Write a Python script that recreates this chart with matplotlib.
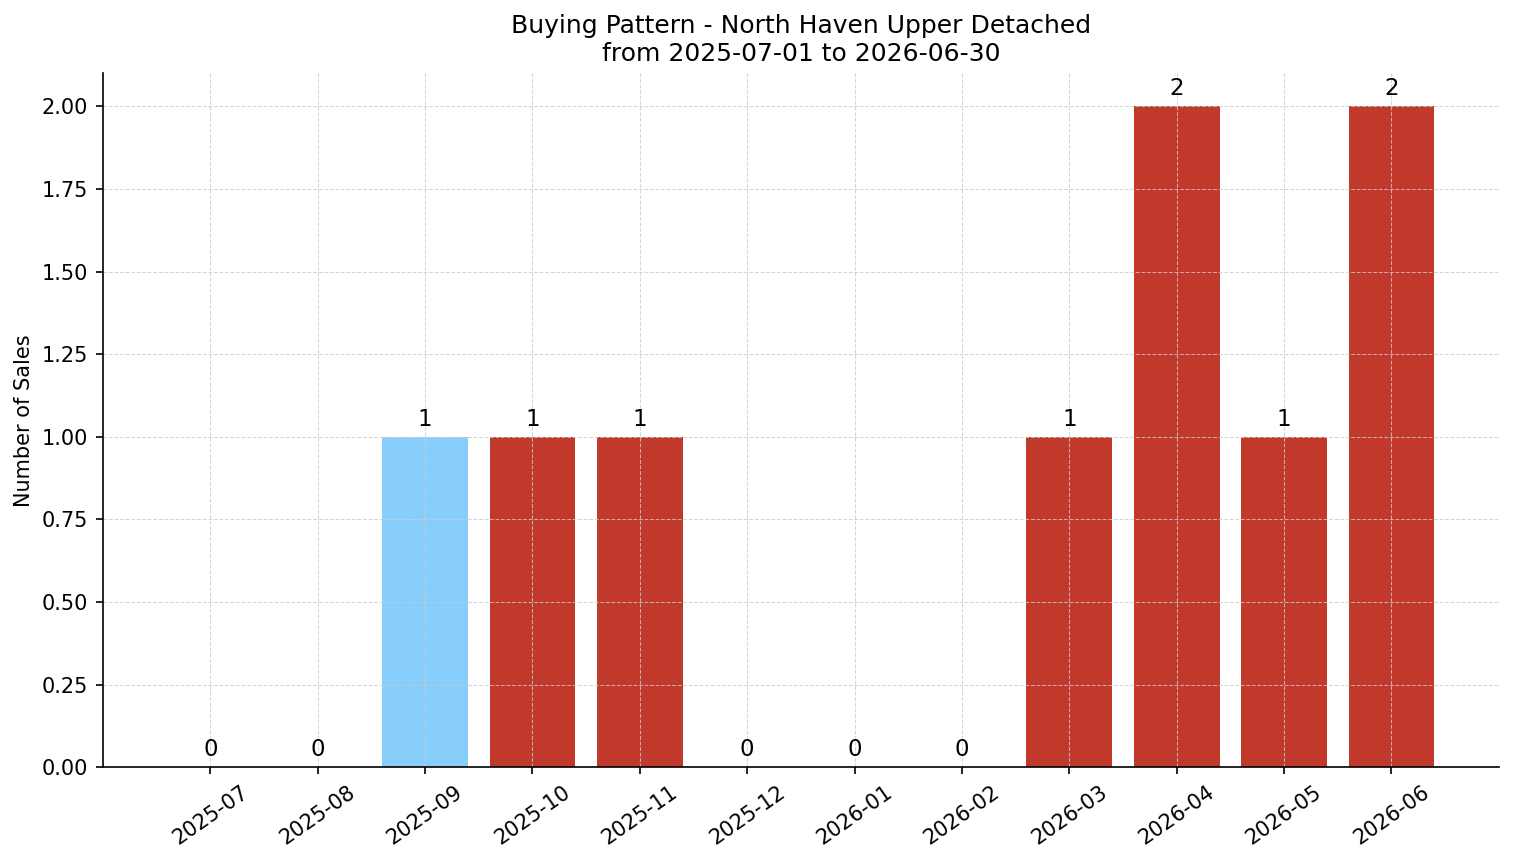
import matplotlib
matplotlib.use("Agg")
import matplotlib.pyplot as plt

months = ["2025-07", "2025-08", "2025-09", "2025-10", "2025-11", "2025-12",
          "2026-01", "2026-02", "2026-03", "2026-04", "2026-05", "2026-06"]
sales = [0, 0, 1, 1, 1, 0, 0, 0, 1, 2, 1, 2]
colors = ["#C0392B", "#C0392B", "#87CEFA", "#C0392B", "#C0392B", "#C0392B",
          "#C0392B", "#C0392B", "#C0392B", "#C0392B", "#C0392B", "#C0392B"]

fig = plt.figure(figsize=(1514/150, 863/150), dpi=150)
ax = fig.add_axes([0.068, 0.111, 0.922, 0.804])
x = list(range(len(months)))
bars = ax.bar(x, sales, width=0.8, color=colors)
for xi, v in zip(x, sales):
    ax.annotate(str(v), (xi, v), xytext=(0, 3), textcoords="offset points",
                ha="center", va="bottom", fontsize=11)
ax.set_xticks(x)
ax.set_xticklabels(months, rotation=35, ha="center", fontsize=10)
ax.tick_params(axis="y", labelsize=10)
ax.set_xlim(-1, 12)
ax.set_ylim(0, 2.1)
ax.set_ylabel("Number of Sales", fontsize=10)
ax.set_title("Buying Pattern - North Haven Upper Detached\nfrom 2025-07-01 to 2026-06-30", fontsize=12)
ax.grid(True, linestyle="--", linewidth=0.5, color="#cccccc", alpha=0.8)
ax.spines["top"].set_visible(False)
ax.spines["right"].set_visible(False)
fig.savefig("out.png", dpi=150)
